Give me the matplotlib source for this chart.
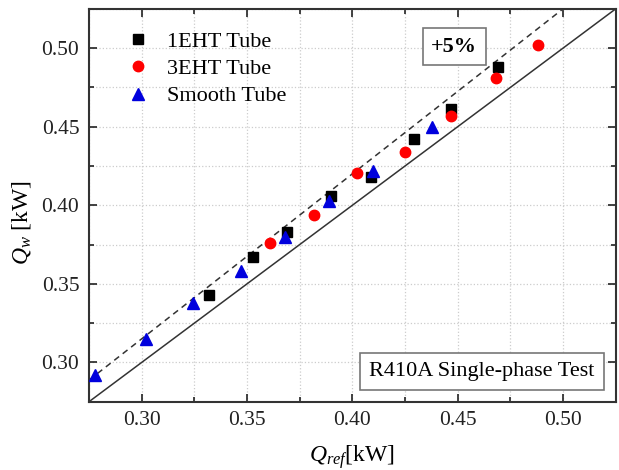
import numpy as np
import matplotlib
matplotlib.use("Agg")
import matplotlib.pyplot as plt
from matplotlib.ticker import MultipleLocator, FormatStrFormatter

plt.rcParams['font.family'] = ['Liberation Serif', 'DejaVu Serif']
plt.rcParams['mathtext.fontset'] = 'custom'
plt.rcParams['mathtext.rm'] = 'Liberation Serif'
plt.rcParams['mathtext.it'] = 'Liberation Serif:italic'

ref_1eht = [0.332, 0.353, 0.369, 0.390, 0.409, 0.429, 0.447, 0.469]
w_1eht = [0.343, 0.367, 0.383, 0.406, 0.418, 0.442, 0.461, 0.488]

ref_3eht = [0.361, 0.382, 0.402, 0.425, 0.447, 0.468, 0.488]
w_3eht = [0.376, 0.394, 0.4205, 0.434, 0.457, 0.481, 0.502]

ref_smooth = [0.278, 0.302, 0.3245, 0.347, 0.368, 0.389, 0.410, 0.438]
w_smooth = [0.292, 0.315, 0.338, 0.358, 0.380, 0.4025, 0.422, 0.450]

lo, hi = 0.275, 0.525
dev = 0.05

fig = plt.figure(figsize=(6.19, 4.70), dpi=100)
ax = fig.add_axes([0.1438, 0.1453, 0.851, 0.836])

line = np.array([lo, hi])
ax.plot(line, line, color='#333333', lw=1.1, zorder=2)
ax.plot(line, line * (1 + dev), color='#333333', lw=1.1, ls=(0, (4, 3)), zorder=2)

ax.plot(ref_1eht, w_1eht, 's', color='black', ms=6.5, ls='none', label='1EHT Tube', zorder=3)
ax.plot(ref_3eht, w_3eht, 'o', color='#ff0000', ms=7.5, ls='none', label='3EHT Tube', zorder=3)
ax.plot(ref_smooth, w_smooth, '^', color='#0000dd', ms=8.5, ls='none', label='Smooth Tube', zorder=3)

ax.set_xlim(lo, hi)
ax.set_ylim(lo, hi)
for axis in (ax.xaxis, ax.yaxis):
    axis.set_major_locator(MultipleLocator(0.05))
    axis.set_minor_locator(MultipleLocator(0.025))
    axis.set_major_formatter(FormatStrFormatter('%.2f'))
ax.tick_params(which='both', direction='in', top=True, right=True, width=1.2,
               labelsize=15.5, colors='#222222')
ax.tick_params(which='major', length=6, pad=7)
ax.tick_params(which='minor', length=3.5)
ax.grid(which='both', color='#cccccc', ls=':', lw=0.9, zorder=0)
for s in ax.spines.values():
    s.set_linewidth(1.5)
    s.set_color('#333333')

ax.set_xlabel(r'$Q_{ref}$[kW]', fontsize=17, labelpad=9)
ax.set_ylabel(r'$Q_{w}$ [kW]', fontsize=17, labelpad=6)
ax.yaxis.label.set_y(0.455)

ax.legend(loc='upper left', frameon=False, fontsize=16, handlelength=1.0,
          handletextpad=0.8, borderaxespad=0.0, labelspacing=0.3,
          bbox_to_anchor=(0.055, 0.965))

ax.text(0.693, 0.903, '+5%', transform=ax.transAxes, fontsize=16, fontweight='bold',
        ha='center', va='center',
        bbox=dict(boxstyle='square,pad=0.38', fc='white', ec='#777777', lw=1.2), zorder=4)
ax.text(0.746, 0.076, 'R410A Single-phase Test', transform=ax.transAxes, fontsize=16,
        ha='center', va='center',
        bbox=dict(boxstyle='square,pad=0.4', fc='white', ec='#777777', lw=1.2), zorder=4)

fig.savefig('out.png', dpi=100)
